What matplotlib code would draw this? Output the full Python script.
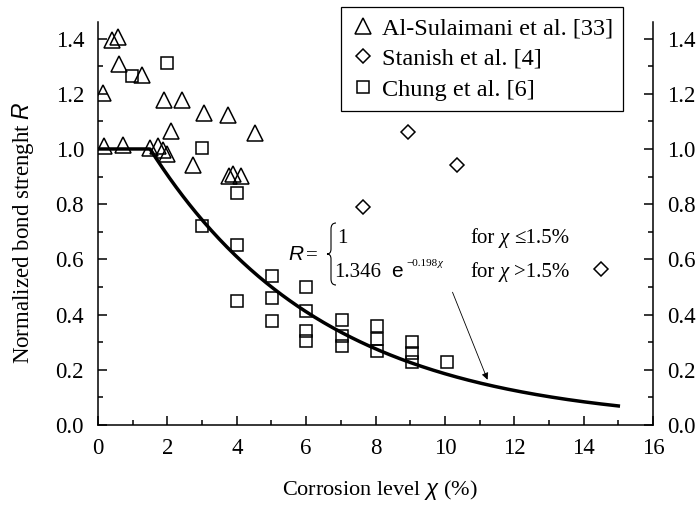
import numpy as np
import matplotlib
matplotlib.use('Agg')
import matplotlib.pyplot as plt
from matplotlib.path import Path
from matplotlib.patches import PathPatch
from matplotlib.ticker import MultipleLocator, FormatStrFormatter

# Al-Sulaimani et al. [33] (triangles)
sulaimani_x = [0.40, 0.59, 0.61, 1.26, 0.15, 1.89, 2.42, 3.06, 3.74, 4.52, 2.10,
               0.17, 0.73, 1.50, 1.74, 1.87, 1.98, 2.75, 3.77, 3.89, 4.12]
sulaimani_y = [1.396, 1.404, 1.307, 1.267, 1.202, 1.178, 1.178, 1.13, 1.124, 1.058, 1.064,
               1.012, 1.016, 1.004, 1.012, 0.996, 0.982, 0.942, 0.903, 0.909, 0.903]

# Stanish et al. [4] (diamonds)
stanish_x = [7.64, 8.95, 10.35, 14.49]
stanish_y = [0.79, 1.063, 0.942, 0.564]

# Chung et al. [6] (squares)
chung_x = [1.98, 0.99, 3.0, 4.01, 3.0, 4.01, 5.02, 4.01, 5.02, 5.02, 6.01, 6.01,
           6.01, 6.01, 7.02, 7.02, 7.02, 8.03, 8.03, 8.03, 9.04, 9.04, 9.04, 10.05]
chung_y = [1.311, 1.263, 1.004, 0.842, 0.721, 0.651, 0.539, 0.448, 0.46, 0.378, 0.50, 0.412,
           0.339, 0.303, 0.379, 0.321, 0.285, 0.358, 0.312, 0.267, 0.299, 0.261, 0.227, 0.23]

# model shown on the chart: R = 1 for chi <= 1.5 %, 1.346 exp(-0.198 chi) above
coef_a = 1.346
coef_b = 0.198
chi_limit = 1.5
chi_max = 15

W, H = 700, 505

plt.rcParams['font.family'] = ['Liberation Serif', 'DejaVu Serif']
plt.rcParams['mathtext.fontset'] = 'custom'
plt.rcParams['mathtext.rm'] = 'Liberation Serif'
plt.rcParams['mathtext.it'] = 'Liberation Sans:italic'


def put(x, y, s, **kw):
    # place text by image pixel (x left, y baseline)
    fig.text(x / W, 1 - y / H, s, ha='left', va='baseline', **kw)


fig = plt.figure(figsize=(W / 100, H / 100), dpi=100)
ax = fig.add_axes([98 / W, 1 - 425 / H, (653 - 98) / W, (425 - 22) / H])

mk = dict(linestyle='none', mfc='none', mec='black', mew=1.1)
ax.plot(sulaimani_x, sulaimani_y, marker='^', ms=11, label='Al-Sulaimani et al. [33]', **mk)
ax.plot(stanish_x, stanish_y, marker='D', ms=7, label='Stanish et al. [4]', **mk)
ax.plot(chung_x, chung_y, marker='s', ms=8.5, label='Chung et al. [6]', **mk)

chi = np.linspace(0, chi_max, 400)
r = np.where(chi <= chi_limit, 1.0, coef_a * np.exp(-coef_b * chi))
ax.plot(chi, r, color='black', lw=2.5, zorder=4)

ax.annotate('', xy=(11.23, 0.164), xytext=(10.22, 0.481),
            arrowprops=dict(arrowstyle='-|>', lw=0.6, color='black',
                            mutation_scale=10, shrinkA=0, shrinkB=0))

ax.set_xlim(0, 16)
ax.set_ylim(0, 1.46)
ax.xaxis.set_major_locator(MultipleLocator(2))
ax.xaxis.set_minor_locator(MultipleLocator(1))
ax.yaxis.set_major_locator(MultipleLocator(0.2))
ax.yaxis.set_minor_locator(MultipleLocator(0.1))
ax.yaxis.set_major_formatter(FormatStrFormatter('%.1f'))
ax.tick_params(which='both', direction='in', width=1.1, top=False,
               right=True, labelright=True, labelsize=16.5)
ax.tick_params(which='major', length=6.5)
ax.tick_params(which='minor', length=3.5)
ax.tick_params(axis='y', pad=10)
ax.tick_params(axis='x', pad=9)
ax.spines['top'].set_visible(False)
for s in ['left', 'right', 'bottom']:
    ax.spines[s].set_linewidth(1.1)

leg = ax.legend(loc='upper left', bbox_to_anchor=(341 / W, 1 - 7 / H),
                bbox_transform=fig.transFigure, borderaxespad=0, fancybox=False,
                edgecolor='black', framealpha=1, fontsize=17.5, handlelength=1.0,
                handletextpad=0.25, borderpad=0.42, labelspacing=0.36, numpoints=1)
leg.get_frame().set_linewidth(0.9)

fig.text(379.5 / W, 1 - 490 / H, r'Corrosion level $\chi$ (%)', ha='center', va='center',
         fontsize=16)
fig.text(22.7 / W, 1 - 232.5 / H, r'Normalized bond strenght $R$', ha='center',
         va='center', rotation=90, fontsize=16.5)

# equation
put(288, 260, 'R', fontsize=15, family='Liberation Sans', style='italic')
put(306, 260, '=', fontsize=15)
brace = [(336, 223), (331, 223), (331, 229), (331, 249), (331, 254), (327, 254),
         (331, 254), (331, 259), (331, 279), (331, 285), (336, 285)]
codes = [Path.MOVETO, Path.CURVE3, Path.CURVE3, Path.LINETO, Path.CURVE3, Path.CURVE3,
         Path.CURVE3, Path.CURVE3, Path.LINETO, Path.CURVE3, Path.CURVE3]
verts = [(x / W, 1 - y / H) for x, y in brace]
fig.add_artist(PathPatch(Path(verts, codes), fill=False, lw=0.8, ec='black',
                         transform=fig.transFigure))
put(337, 243, '1', fontsize=15)
put(334, 277, '1.346', fontsize=15)
put(391, 277, 'e', fontsize=15, family='Liberation Sans')
put(406, 266, '\u22120.198', fontsize=8)
put(438, 266, '\u03c7', fontsize=8, style='italic')
for yb, sign in [(243, '\u2264'), (277, '>')]:
    put(470, yb, 'for', fontsize=15)
    put(500, yb, '\u03c7', fontsize=15, style='italic')
    put(514, yb, sign + '1.5%', fontsize=15)

fig.savefig('out.png', dpi=100)
